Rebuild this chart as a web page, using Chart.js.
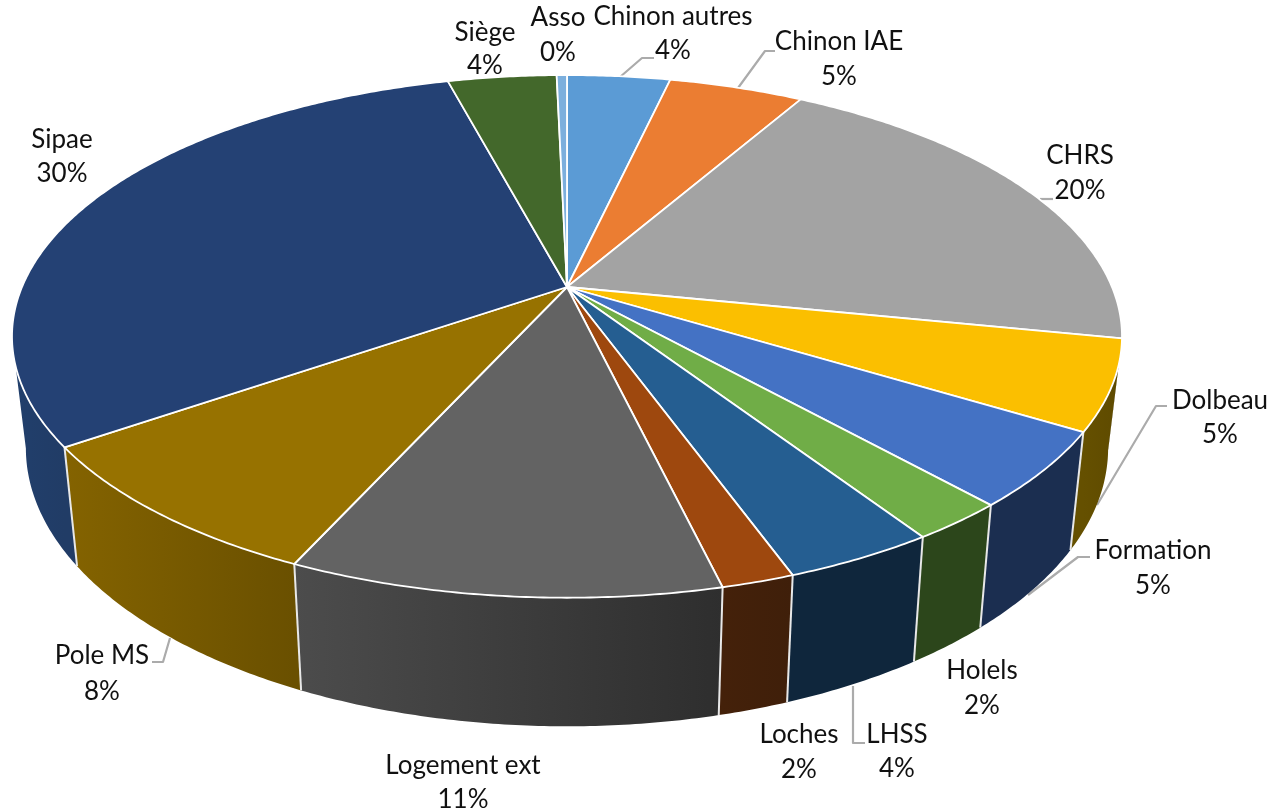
<!DOCTYPE html>
<html><head><meta charset="utf-8">
<style>html,body{margin:0;padding:0;background:#fff}canvas{display:block}</style>
<script src="https://cdn.jsdelivr.net/npm/chart.js@4/dist/chart.umd.js"></script>
</head><body><canvas id="c" width="1278" height="811"></canvas>
<script>
const categories = ["Chinon autres","Chinon IAE","CHRS","Dolbeau","Formation","Holels","LHSS","Loches","Logement ext","Pole MS","Sipae","Siège","Asso"];
const values = [3.61,4.72,19.86,5.56,4.66,2.39,3.74,1.79,10.56,8.6,30.5,3.81,0.36];
const percentLabels = ["4%","5%","20%","5%","5%","2%","4%","2%","11%","8%","30%","4%","0%"];
const topColors = ["#5B9BD5","#EB7D32","#A3A3A3","#FBBF00","#4472C4","#70AD47","#255E91","#9E480E","#636363","#977200","#244174","#43682B","#7CAFDD"];
const wallFrom = ["#2d5578","#7d4219","#5a5a5a","#655000","#1b2e50","#2c461b","#0f263c","#44210a","#4c4c4c","#846300","#213f6c","#2c461b","#3f6a90"];
const wallTo   = ["#2d5578","#7d4219","#5a5a5a","#5e4a00","#1b2e50","#2c461b","#0f263c","#3f1f0a","#2e2e2e","#6a5000","#213c66","#2c461b","#3f6a90"];
// label layout: centre x, first line y, second line y
const labelLayout = [[673,17,51],[839,42,77],[1080,156,191],[1220,401,435],[1153,551,586],[982,671,706],[897,735,769],[799,735,770],[463,766,800],[102,656,692],[62,140,174],[485,33,66],[558,18,53]];
const leaders = [
  [[620,77],[642,58],[654,58]],[[738,88],[765,51],[775,51]],[[1040,199],[1053,199]],
  [[1097,505],[1156,406],[1167,406]],[[1028,595],[1078,557],[1090,557]],
  [[853,686],[853,743],[865,743]],[[170,638],[163,662],[152,662]]
];
// projection of the disc
const cx=567, cy=287, k=0.189, b=252, a=545;
function topPt(t){const u=Math.sin(t),v=-Math.cos(t),s=1/(1-k*v);return [cx+a*u*s,cy+b*v*s];}
function botPt(t){const p=topPt(t);return [cx+0.975*(p[0]-cx),p[1]*1.0645+90];}
const STEP=Math.PI/360;
function samples(t0,t1){const n=Math.max(1,Math.ceil((t1-t0)/STEP)),r=[];for(let i=0;i<=n;i++)r.push(t0+(t1-t0)*i/n);return r;}
const VIS0=101*Math.PI/180, VIS1=259*Math.PI/180;

const disc3d={id:'disc3d',
 beforeDatasetDraw(chart){
  const ctx=chart.ctx, arcs=chart.getDatasetMeta(0).data;
  const ang=arcs.map(e=>{const p=e.getProps(['startAngle','endAngle'],true);return [p.startAngle+Math.PI/2,p.endAngle+Math.PI/2];});
  ctx.save();
  ctx.lineCap='butt';ctx.lineJoin='round';
  // leader lines
  ctx.strokeStyle='#ababab';ctx.lineWidth=2.2;
  leaders.forEach(l=>{ctx.beginPath();l.forEach((p,i)=>i?ctx.lineTo(p[0],p[1]):ctx.moveTo(p[0],p[1]));ctx.stroke();});
  // walls
  ang.forEach((A,i)=>{
    const t0=Math.max(A[0],VIS0),t1=Math.min(A[1],VIS1);
    if(t1<=t0)return;
    const ts=samples(t0,t1);
    const xs=ts.map(t=>topPt(t)[0]);
    const g=ctx.createLinearGradient(Math.min(...xs),0,Math.max(...xs),0);
    g.addColorStop(0,wallFrom[i]);g.addColorStop(1,wallTo[i]);
    ctx.fillStyle=g;
    ctx.beginPath();
    ts.forEach((t,j)=>{const p=topPt(t);j?ctx.lineTo(p[0],p[1]):ctx.moveTo(p[0],p[1]);});
    ts.slice().reverse().forEach(t=>{const p=botPt(t);ctx.lineTo(p[0],p[1]);});
    ctx.closePath();ctx.fill();
  });
  // seams between walls
  ctx.strokeStyle='#e8e8e8';ctx.lineWidth=2;
  ang.forEach(A=>{
    if(A[0]>VIS0+0.02&&A[0]<VIS1){const p=topPt(A[0]),q=botPt(A[0]);ctx.beginPath();ctx.moveTo(p[0],p[1]);ctx.lineTo(q[0],q[1]);ctx.stroke();}
  });
  // top faces
  ctx.strokeStyle='#ffffff';ctx.lineWidth=1.8;
  ang.forEach((A,i)=>{
    ctx.fillStyle=topColors[i];
    ctx.beginPath();ctx.moveTo(cx,cy);
    samples(A[0],A[1]).forEach(t=>{const p=topPt(t);ctx.lineTo(p[0],p[1]);});
    ctx.closePath();ctx.fill();ctx.stroke();
  });
  // labels
  ctx.fillStyle='#111';ctx.font='26px Lato, Carlito, sans-serif';ctx.textAlign='center';ctx.textBaseline='middle';
  categories.forEach((c,i)=>{const L=labelLayout[i];ctx.fillText(c,L[0],L[1]);ctx.fillText(percentLabels[i],L[0],L[2]);});
  ctx.restore();
  return false;
 }};

new Chart(document.getElementById('c'),{
  type:'pie',
  data:{labels:categories,datasets:[{data:values,backgroundColor:topColors,borderColor:'#fff',borderWidth:2}]},
  options:{responsive:false,animation:false,rotation:0,devicePixelRatio:1,
    plugins:{legend:{display:false},title:{display:false},tooltip:{enabled:false}}},
  plugins:[disc3d]
});
</script></body></html>
